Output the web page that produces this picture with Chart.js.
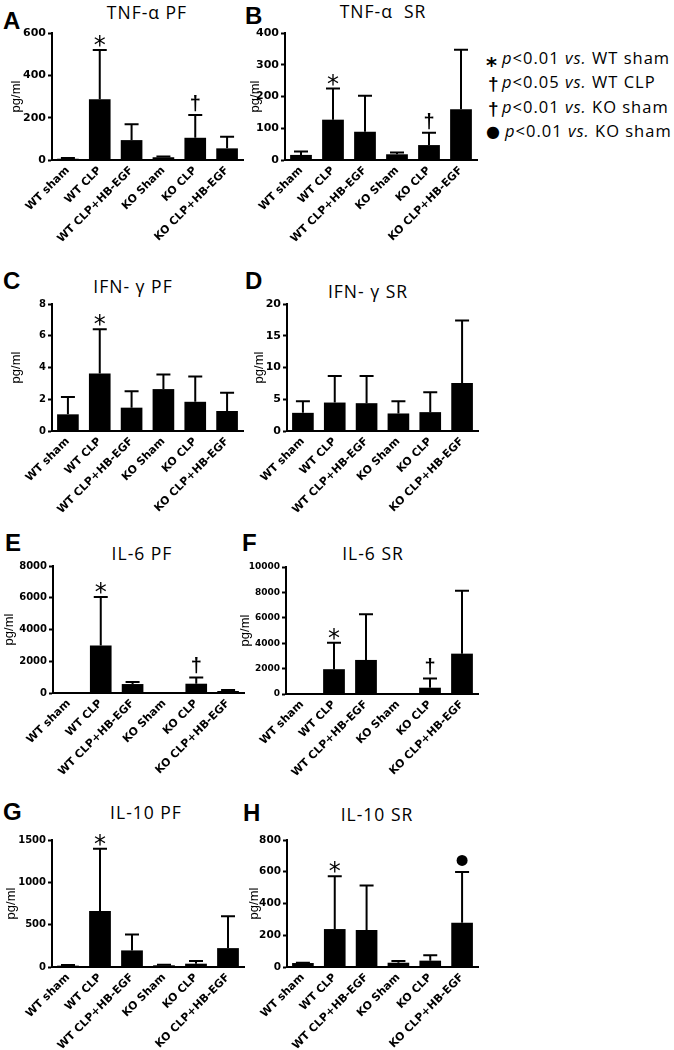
<!DOCTYPE html>
<html>
<head>
<meta charset="utf-8">
<script src="https://cdn.jsdelivr.net/npm/chart.js@4.4.0/dist/chart.umd.min.js"></script>
<style>
body { margin: 0; background: #fff; width: 674px; height: 1050px; position: relative; overflow: hidden; font-family: "Open Sans", sans-serif; color: #000; }
canvas { position: absolute; }
.lt { position: absolute; font: bold 24px "Liberation Sans", Arial, sans-serif; line-height: 24px; }
.ti { position: absolute; font-size: 17.5px; letter-spacing: 1px; line-height: 24px; transform: translate(-50%, -50%); white-space: pre; }
.lg { position: absolute; font-size: 16.5px; letter-spacing: 1px; line-height: 20px; white-space: pre; }
.sym { position: absolute; line-height: 20px; }
</style>
</head>
<body>

<div class="lt" style="left:3px;top:9px">A</div>
<div class="lt" style="left:245px;top:4px">B</div>
<div class="lt" style="left:3px;top:269px">C</div>
<div class="lt" style="left:245px;top:269px">D</div>
<div class="lt" style="left:5px;top:531px">E</div>
<div class="lt" style="left:242px;top:531px">F</div>
<div class="lt" style="left:3px;top:800px">G</div>
<div class="lt" style="left:243px;top:801px">H</div>

<div class="ti" style="left:147px;top:12px">TNF-α PF</div>
<div class="ti" style="left:383px;top:11px">TNF-α  SR</div>
<div class="ti" style="left:133px;top:286px">IFN- γ PF</div>
<div class="ti" style="left:368px;top:291px">IFN- γ SR</div>
<div class="ti" style="left:142px;top:553px">IL-6 PF</div>
<div class="ti" style="left:373px;top:553px">IL-6 SR</div>
<div class="ti" style="left:146px;top:812px">IL-10 PF</div>
<div class="ti" style="left:377px;top:814px">IL-10 SR</div>

<!-- 凡例 -->
<div class="sym" style="left:486px;top:54px;font:bold 21px 'DejaVu Sans'">*</div>
<div class="lg" style="left:502px;top:48px"><i>p</i>&lt;0.01 <i>vs.</i> WT sham</div>
<div class="sym" style="left:488px;top:73px;font:bold 19px 'Liberation Sans'">†</div>
<div class="lg" style="left:502px;top:72px"><i>p</i>&lt;0.05 <i>vs.</i> WT CLP</div>
<div class="sym" style="left:488px;top:98px;font:bold 19px 'Liberation Sans'">†</div>
<div class="lg" style="left:502px;top:97px"><i>p</i>&lt;0.01 <i>vs.</i> KO sham</div>
<div class="sym" style="left:486px;top:122px;font:16px 'DejaVu Sans'">●</div>
<div class="lg" style="left:505px;top:121px"><i>p</i>&lt;0.01 <i>vs.</i> KO sham</div>

<script>
// データ
const groups = ['WT sham', 'WT CLP', 'WT CLP+HB-EGF', 'KO Sham', 'KO CLP', 'KO CLP+HB-EGF'];

// TNF-α (mean / SD)
const tnfPF = [6, 287, 94, 13, 105, 55];
const tnfPFsd = [4, 233, 75, 4, 108, 55];
const tnfSR = [16, 127, 89, 18, 47, 160];
const tnfSRsd = [11, 98, 113, 6, 39, 187];
// IFN-γ
const ifnPF = [1.05, 3.62, 1.47, 2.64, 1.84, 1.26];
const ifnPFsd = [1.09, 2.79, 1.04, 0.92, 1.59, 1.15];
const ifnSR = [2.86, 4.48, 4.38, 2.76, 2.97, 7.55];
const ifnSRsd = [1.83, 4.17, 4.27, 1.93, 3.12, 9.85];
// IL-6
const il6PF = [0, 2986, 564, 0, 585, 125];
const il6PFsd = [0, 3069, 125, 0, 396, 63];
const il6SR = [0, 1953, 2682, 0, 495, 3177];
const il6SRsd = [0, 2083, 3594, 0, 729, 4948];
// IL-10
const il10PF = [16, 662, 196, 20, 39, 223];
const il10PFsd = [7, 736, 188, 7, 31, 376];
const il10SR = [25, 239, 233, 27, 40, 279];
const il10SRsd = [2, 332, 280, 11, 34, 320];

// 有意差マーク
const marksA = ['', '*', '', '', '†', ''];
const marksC = ['', '*', '', '', '', ''];
const marksD = ['', '', '', '', '', ''];
const marksH = ['', '*', '', '', '', '●'];

// y軸目盛り
const ticksTnfPF = [0, 200, 400, 600];
const ticksTnfSR = [0, 100, 200, 300, 400];
const ticksIfnPF = [0, 2, 4, 6, 8];
const ticksIfnSR = [0, 5, 10, 15, 20];
const ticksIl6PF = [0, 2000, 4000, 6000, 8000];
const ticksIl6SR = [0, 2000, 4000, 6000, 8000, 10000];
const ticksIl10PF = [0, 500, 1000, 1500];
const ticksIl10SR = [0, 200, 400, 600, 800];

// パネル配置
const panels = [
  { data: tnfPF, sd: tnfPFsd, marks: marksA, ticks: ticksTnfPF, axisX: 52, top: 33, bottom: 160, w: 191, yw: 43, fs: 11 },
  { data: tnfSR, sd: tnfSRsd, marks: marksA, ticks: ticksTnfSR, axisX: 285, top: 33, bottom: 160, w: 192, yw: 37, fs: 11 },
  { data: ifnPF, sd: ifnPFsd, marks: marksC, ticks: ticksIfnPF, axisX: 52, top: 304, bottom: 431, w: 191, yw: 43, fs: 10 },
  { data: ifnSR, sd: ifnSRsd, marks: marksD, ticks: ticksIfnSR, axisX: 287, top: 304, bottom: 431, w: 191, yw: 35, fs: 11 },
  { data: il6PF, sd: il6PFsd, marks: marksA, ticks: ticksIl6PF, axisX: 53, top: 566, bottom: 693, w: 191, yw: 51, fs: 10 },
  { data: il6SR, sd: il6SRsd, marks: marksA, ticks: ticksIl6SR, axisX: 286, top: 567, bottom: 694, w: 192, yw: 48, fs: 9 },
  { data: il10PF, sd: il10PFsd, marks: marksC, ticks: ticksIl10PF, axisX: 52, top: 840, bottom: 967, w: 192, yw: 48, fs: 10 },
  { data: il10SR, sd: il10SRsd, marks: marksH, ticks: ticksIl10SR, axisX: 287, top: 840, bottom: 967, w: 191, yw: 40, fs: 10.5 },
];

// エラーバー + マーク
function errorBars(sd, marks) {
  return {
    id: 'errorBars',
    afterDatasetsDraw(chart) {
      const ctx = chart.ctx;
      const y = chart.scales.y;
      const vals = chart.data.datasets[0].data;
      const meta = chart.getDatasetMeta(0);
      ctx.save();
      ctx.strokeStyle = '#000';
      ctx.fillStyle = '#000';
      ctx.lineWidth = 2;
      meta.data.forEach((bar, i) => {
        const cap = y.getPixelForValue(vals[i] + sd[i]);
        if (sd[i]) {
          ctx.beginPath();
          ctx.moveTo(bar.x, y.getPixelForValue(vals[i]));
          ctx.lineTo(bar.x, cap);
          ctx.moveTo(bar.x - 7, cap);
          ctx.lineTo(bar.x + 7, cap);
          ctx.stroke();
        }
        const m = marks[i];
        if (m === '●') {
          ctx.beginPath();
          ctx.arc(bar.x, cap - 11.5, 5.5, 0, Math.PI * 2);
          ctx.fill();
        } else if (m) {
          ctx.font = m === '*' ? '24px "DejaVu Sans"' : 'bold 20px "Liberation Sans"';
          ctx.textAlign = 'center';
          ctx.textBaseline = 'alphabetic';
          const mt = ctx.measureText(m);
          ctx.fillText(m, bar.x, cap - 3 - mt.actualBoundingBoxDescent);
        }
      });
      ctx.restore();
    }
  };
}

const padTop = 10, padRight = 8, xh = 95;

panels.forEach(p => {
  const cv = document.createElement('canvas');
  const left = p.axisX - p.yw;
  cv.width = p.yw + p.w + padRight;
  cv.height = padTop + (p.bottom - p.top) + xh;
  cv.style.left = left + 'px';
  cv.style.top = (p.top - padTop) + 'px';
  document.body.appendChild(cv);

  new Chart(cv, {
    type: 'bar',
    data: {
      labels: groups,
      datasets: [{
        data: p.data,
        backgroundColor: '#000',
        borderWidth: 0,
        barPercentage: 0.68,
        categoryPercentage: 1,
      }],
    },
    options: {
      responsive: false,
      animation: false,
      layout: { padding: { top: padTop, right: padRight, left: 0, bottom: 0 } },
      plugins: { legend: { display: false }, tooltip: { enabled: false } },
      scales: {
        x: {
          grid: { display: false, drawTicks: false },
          border: { color: '#000', width: 2 },
          ticks: {
            color: '#000', autoSkip: false, minRotation: 45, maxRotation: 45, padding: 4,
            font: { family: 'DejaVu Sans', weight: 'bold', size: 11 },
          },
          afterFit: s => { s.height = xh; },
        },
        y: {
          min: 0,
          max: p.ticks[p.ticks.length - 1],
          ticks: {
            stepSize: p.ticks[1], color: '#000', padding: 2,
            font: { family: 'DejaVu Sans', weight: 'bold', size: p.fs },
            callback: v => String(v),
          },
          grid: { display: true, drawOnChartArea: false, drawTicks: true, tickLength: 4, tickColor: '#000', tickWidth: 2 },
          border: { color: '#000', width: 2 },
          title: { display: true, text: 'pg/ml', color: '#000', padding: 0, font: { family: 'Liberation Sans', size: 13 } },
          afterFit: s => { s.width = p.yw; },
        },
      },
    },
    plugins: [errorBars(p.sd, p.marks)],
  });
});
</script>
</body>
</html>
